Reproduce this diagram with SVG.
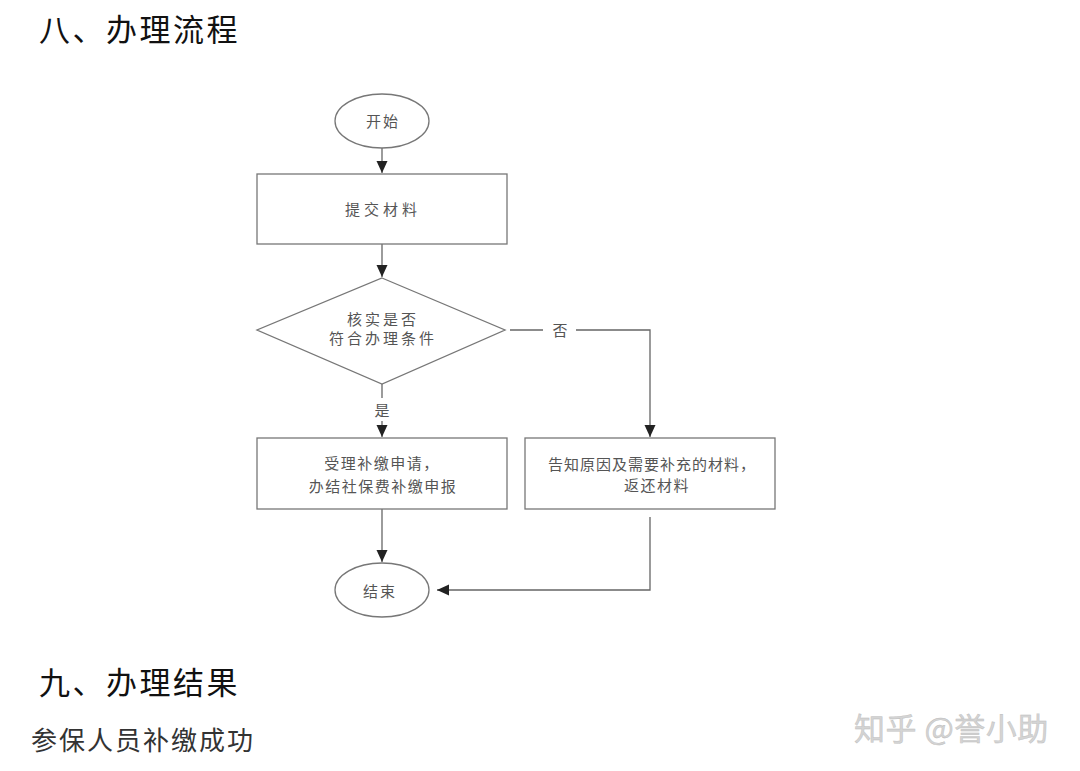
<svg xmlns="http://www.w3.org/2000/svg" width="1080" height="771" viewBox="0 0 1080 771">
<style>
.bg{fill:#ffffff}
.shape{fill:#ffffff;stroke:#777777;stroke-width:1.3}
.line{fill:none;stroke:#666666;stroke-width:1.3}
.t{font-family:"Noto Sans CJK SC","Noto Sans",sans-serif;font-size:15px;fill:#555555;text-anchor:middle;letter-spacing:2px}
.h{font-family:"Noto Sans CJK SC","Noto Sans",sans-serif;font-size:31px;fill:#111111;letter-spacing:2.5px}
.b{font-family:"Noto Sans CJK SC","Noto Sans",sans-serif;font-size:26px;fill:#333333;letter-spacing:2px}
.wm{font-family:"Noto Sans CJK SC","Noto Sans",sans-serif;font-size:31px;fill:#d4d4d4;stroke:#bbbbbb;stroke-width:0.4;letter-spacing:0.5px}
</style>
<defs>
<marker id="arr" markerWidth="13" markerHeight="12" refX="12" refY="5.5" orient="auto" markerUnits="userSpaceOnUse">
<path d="M0,0 L12,5.5 L0,11 Z" fill="#222222"/>
</marker>
</defs>
<rect class="bg" x="0" y="0" width="1080" height="771"/>
<text class="h" x="39" y="41">八、办理流程</text>
<text class="h" x="39" y="694">九、办理结果</text>
<text class="b" x="31" y="750">参保人员补缴成功</text>
<text class="wm" x="854" y="740">知乎 @誉小助</text>

<g id="connectors">
<line class="line" x1="382" y1="148" x2="382" y2="173" marker-end="url(#arr)"/>
<line class="line" x1="382" y1="244" x2="382" y2="277" marker-end="url(#arr)"/>
<line class="line" x1="382" y1="384" x2="382" y2="398"/>
<line class="line" x1="382" y1="421" x2="382" y2="437" marker-end="url(#arr)"/>
<text class="t" x="383" y="416">是</text>
<polyline class="line" points="510,330 543,330"/>
<polyline class="line" points="576,330 650,330 650,437" marker-end="url(#arr)"/>
<text class="t" x="561" y="336">否</text>
<line class="line" x1="382" y1="509" x2="382" y2="562" marker-end="url(#arr)"/>
<polyline class="line" points="650,517 650,590 437,590" marker-end="url(#arr)"/>
</g>

<g id="start">
<ellipse class="shape" cx="382" cy="121" rx="47" ry="27"/>
<text class="t" x="383" y="127">开始</text>
</g>
<g id="submit">
<rect class="shape" x="257" y="174" width="250" height="70"/>
<text class="t" x="383" y="215" style="letter-spacing:4px">提交材料</text>
</g>
<g id="check">
<polygon class="shape" points="382,278 505,330 382,384 257,330"/>
<text class="t" x="383" y="325" style="letter-spacing:3px">核实是否</text>
<text class="t" x="383" y="344" style="letter-spacing:3px">符合办理条件</text>
</g>
<g id="accept">
<rect class="shape" x="257" y="438" width="250" height="71"/>
<text class="t" x="382" y="469" style="letter-spacing:1.5px">受理补缴申请，</text>
<text class="t" x="383" y="492" style="letter-spacing:1.5px">办结社保费补缴申报</text>
</g>
<g id="reject">
<rect class="shape" x="525" y="438" width="250" height="71"/>
<text class="t" x="652" y="470" style="letter-spacing:1px">告知原因及需要补充的材料，</text>
<text class="t" x="657" y="491" style="letter-spacing:1.5px">返还材料</text>
</g>
<g id="end">
<ellipse class="shape" cx="382" cy="590" rx="47" ry="27"/>
<text class="t" x="380" y="597">结束</text>
</g>
</svg>
